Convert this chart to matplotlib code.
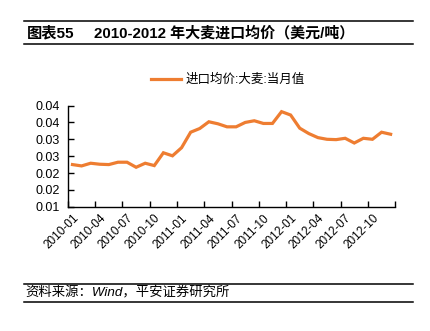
import matplotlib.pyplot as plt
from matplotlib.lines import Line2D

plt.rcParams['font.family'] = ['Liberation Sans', 'Noto Sans CJK SC']

# 大麦进口均价，当月值，2010-01 至 2012-12
months = [f"{y}-{m:02d}" for y in (2010, 2011, 2012) for m in range(1, 13)]
price = [0.0225, 0.0221, 0.0229, 0.0226, 0.0225, 0.0232, 0.0232, 0.0217, 0.0229, 0.0222, 0.0260, 0.0251,
         0.0275, 0.0321, 0.0332, 0.0352, 0.0346, 0.0337, 0.0337, 0.0350, 0.0355, 0.0347, 0.0347, 0.0382,
         0.0372, 0.0333, 0.0317, 0.0305, 0.0300, 0.0299, 0.0303, 0.0289, 0.0303, 0.0300, 0.0321, 0.0315]
yticks = [0.010, 0.015, 0.020, 0.025, 0.030, 0.035, 0.040]
label_every = 3

fig = plt.figure(figsize=(4.30, 3.31), dpi=100)
ax = fig.add_axes([0.158, 0.3755, 0.761, 0.3055])

x = list(range(len(price)))
ax.plot(x, price, color='#EE7D31', lw=2.3, solid_joinstyle='miter', label='进口均价:大麦:当月值')

ax.set_xlim(-0.5, len(price) - 0.5)
ax.set_ylim(0.010, 0.040)
ax.set_yticks(yticks)
ax.set_yticklabels([f"{v + 1e-9:.2f}" for v in yticks], fontsize=9)

# category ticks between months, labels on every third month
ax.set_xticks([i - 0.5 for i in range(0, len(price) + 1, label_every)])
ax.set_xticklabels([])
ax.set_xticks(x[::label_every], minor=True)
ax.set_xticklabels(months[::label_every], minor=True, rotation=45, ha='right',
                   rotation_mode='anchor', fontsize=8.5)
ax.tick_params(axis='x', which='minor', length=0, pad=4)
ax.tick_params(axis='both', which='major', direction='in', length=4, width=1, color='black')
ax.tick_params(axis='y', pad=6)

for s in ('top', 'right'):
    ax.spines[s].set_visible(False)
for s in ('left', 'bottom'):
    ax.spines[s].set_linewidth(1)
    ax.spines[s].set_color('black')

ax.legend(loc='lower center', bbox_to_anchor=(0.49, 1.08), frameon=False, fontsize=9,
          handlelength=2.4, handletextpad=0.35)

# header and footer rules
for y in (1 - 21 / 331, 1 - 44 / 331, 1 - 284 / 331, 1 - 302 / 331):
    fig.add_artist(Line2D([24 / 430, 413 / 430], [y, y], color='black', lw=1.1))

fig.text(27 / 430, 1 - 33 / 331, '图表55', fontsize=11, fontweight='bold', va='center')
fig.text(94 / 430, 1 - 33 / 331, '2010-2012 年大麦进口均价（美元/吨）', fontsize=10.8,
         fontweight='bold', va='center')
fig.text(25 / 430, 1 - 293 / 331, '资料来源：Wind，平安证券研究所', fontsize=9.6,
         style='italic', va='center')

fig.savefig('out.png', dpi=100)
